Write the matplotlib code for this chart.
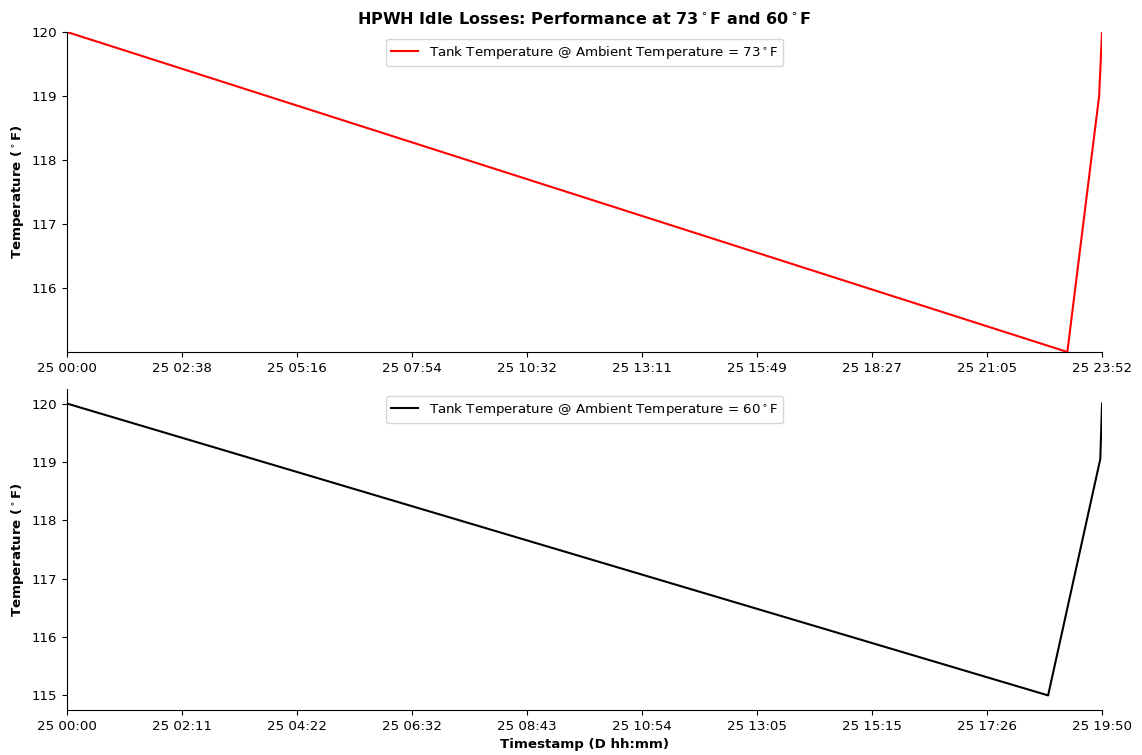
import numpy as np
import matplotlib
matplotlib.use("Agg")
import matplotlib.pyplot as plt

# minutes since 25 00:00
minutes_73 = [0, 1384, 1428, 1432]
temps_73 = [120.0, 115.0, 119.0, 120.0]
ticks_73 = ['25 00:00', '25 02:38', '25 05:16', '25 07:54', '25 10:32',
            '25 13:11', '25 15:49', '25 18:27', '25 21:05', '25 23:52']

minutes_60 = [0, 1128, 1188, 1190]
temps_60 = [120.0, 115.0, 119.05, 120.0]
ticks_60 = ['25 00:00', '25 02:11', '25 04:22', '25 06:32', '25 08:43',
            '25 10:54', '25 13:05', '25 15:15', '25 17:26', '25 19:50']

fig = plt.figure(figsize=(11.42, 7.55), dpi=100)
ax1 = fig.add_axes([0.0587, 0.5338, 0.9063, 0.4238])
ax2 = fig.add_axes([0.0587, 0.0596, 0.9063, 0.4252])

ax1.plot(minutes_73, temps_73, color='red', lw=1.5,
         label='Tank Temperature @ Ambient Temperature = 73$^\\circ$F')
ax1.set_xlim(minutes_73[0], minutes_73[-1])
ax1.set_ylim(min(temps_73), max(temps_73))
ax1.set_xticks(np.linspace(minutes_73[0], minutes_73[-1], len(ticks_73)))
ax1.set_xticklabels(ticks_73)
ax1.set_yticks([116, 117, 118, 119, 120])

ax2.plot(minutes_60, temps_60, color='black', lw=1.5,
         label='Tank Temperature @ Ambient Temperature = 60$^\\circ$F')
ax2.set_xlim(minutes_60[0], minutes_60[-1])
ax2.set_xticks(np.linspace(minutes_60[0], minutes_60[-1], len(ticks_60)))
ax2.set_xticklabels(ticks_60)

for ax in (ax1, ax2):
    ax.spines['top'].set_visible(False)
    ax.spines['right'].set_visible(False)
    ax.tick_params(labelsize=9.6)
    ax.set_ylabel('Temperature ($^\\circ$F)', fontweight='bold', fontsize=9.6)
    ax.legend(loc='upper center', fontsize=9.6)

ax1.set_title('HPWH Idle Losses: Performance at 73$^\\circ$F and 60$^\\circ$F',
              fontweight='bold', fontsize=11.5, pad=6)
ax2.set_xlabel('Timestamp (D hh:mm)', fontweight='bold', fontsize=9.6)

fig.savefig('out.png', dpi=100)
